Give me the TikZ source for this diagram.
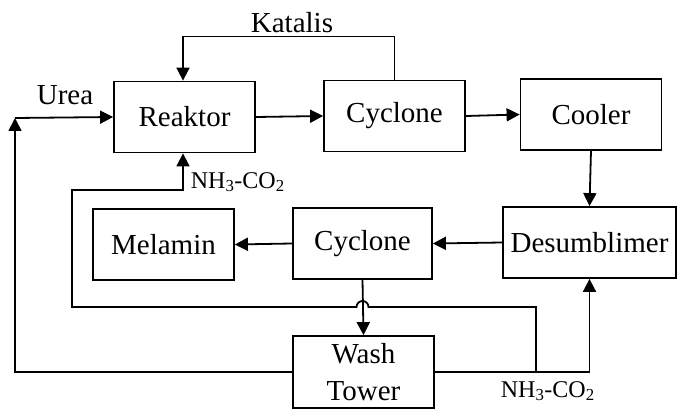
\documentclass[tikz,border=0pt]{standalone}
\usepackage{fontspec}
\setmainfont{Liberation Serif}
\usetikzlibrary{arrows.meta}

\begin{document}
\begin{tikzpicture}[x=1pt, y=-1pt, line width=1.8pt,
	every node/.style={font=\fontsize{29}{37}\selectfont},
	unit/.style={draw, rectangle, minimum width=141pt, minimum height=71pt, inner sep=0pt, align=center},
	flow/.style={-{Triangle[length=13pt,width=13pt]}},
	gas/.style={font=\fontsize{24}{28}\selectfont, inner sep=0pt},]
\useasboundingbox (0,0) rectangle (677,409);

% Create the nodes
\node[unit] (reaktor) at (184.5,117) {Reaktor};
\node[unit] (cyclone1) at (394.5,116) {Cyclone};
\node[unit] (cooler) at (591,114.5) {Cooler};
\node[unit, minimum width=173pt] (desublimer) at (589.5,242.5) {Desumblimer};
\node[unit, minimum width=139pt] (cyclone2) at (362.5,243.5) {Cyclone};
\node[unit] (melamin) at (163.5,244.5) {Melamin};
\node[unit, minimum height=72pt] (wash) at (363.5,372) {Wash\\Tower};

% Labels
\node[inner sep=0pt, anchor=base] (urealabel) at (65,105) {Urea};
\node[inner sep=0pt, anchor=base] (katalislabel) at (292,33) {Katalis};
\node[gas, anchor=base west] (gas1) at (190,188) {NH\textsubscript{3}-CO\textsubscript{2}};
\node[gas, anchor=base west] (gas2) at (500,397) {NH\textsubscript{3}-CO\textsubscript{2}};

\coordinate (urea) at (15,118);
\coordinate (split) at (536,372);

% Main line
\draw[flow] (reaktor.east) -- (cyclone1.west);
\draw[flow] (cyclone1.east) -- (cooler.west);
\draw[flow] (cooler.south) -- (desublimer.north);
\draw[flow] (desublimer.west) -- (cyclone2.east);
\draw[flow] (cyclone2.west) -- (melamin.east);
\draw[flow] (cyclone2.south) -- (wash.north);

% Recycles
\draw[flow] (cyclone1.north) -- ++(0,-43) -| ([xshift=-1.5pt]reaktor.north);
\draw[flow] (wash.west) -| (urea);
\draw[flow] (urea) -- (reaktor.west);
\draw[flow] (wash.east) -| (desublimer.south);
\draw[flow] (split) |- ([xshift=6pt]cyclone2.south |- 0,307) arc (0:180:6pt) -| (72,190) -| ([xshift=-1.5pt]reaktor.south);

\end{tikzpicture}
\end{document}
